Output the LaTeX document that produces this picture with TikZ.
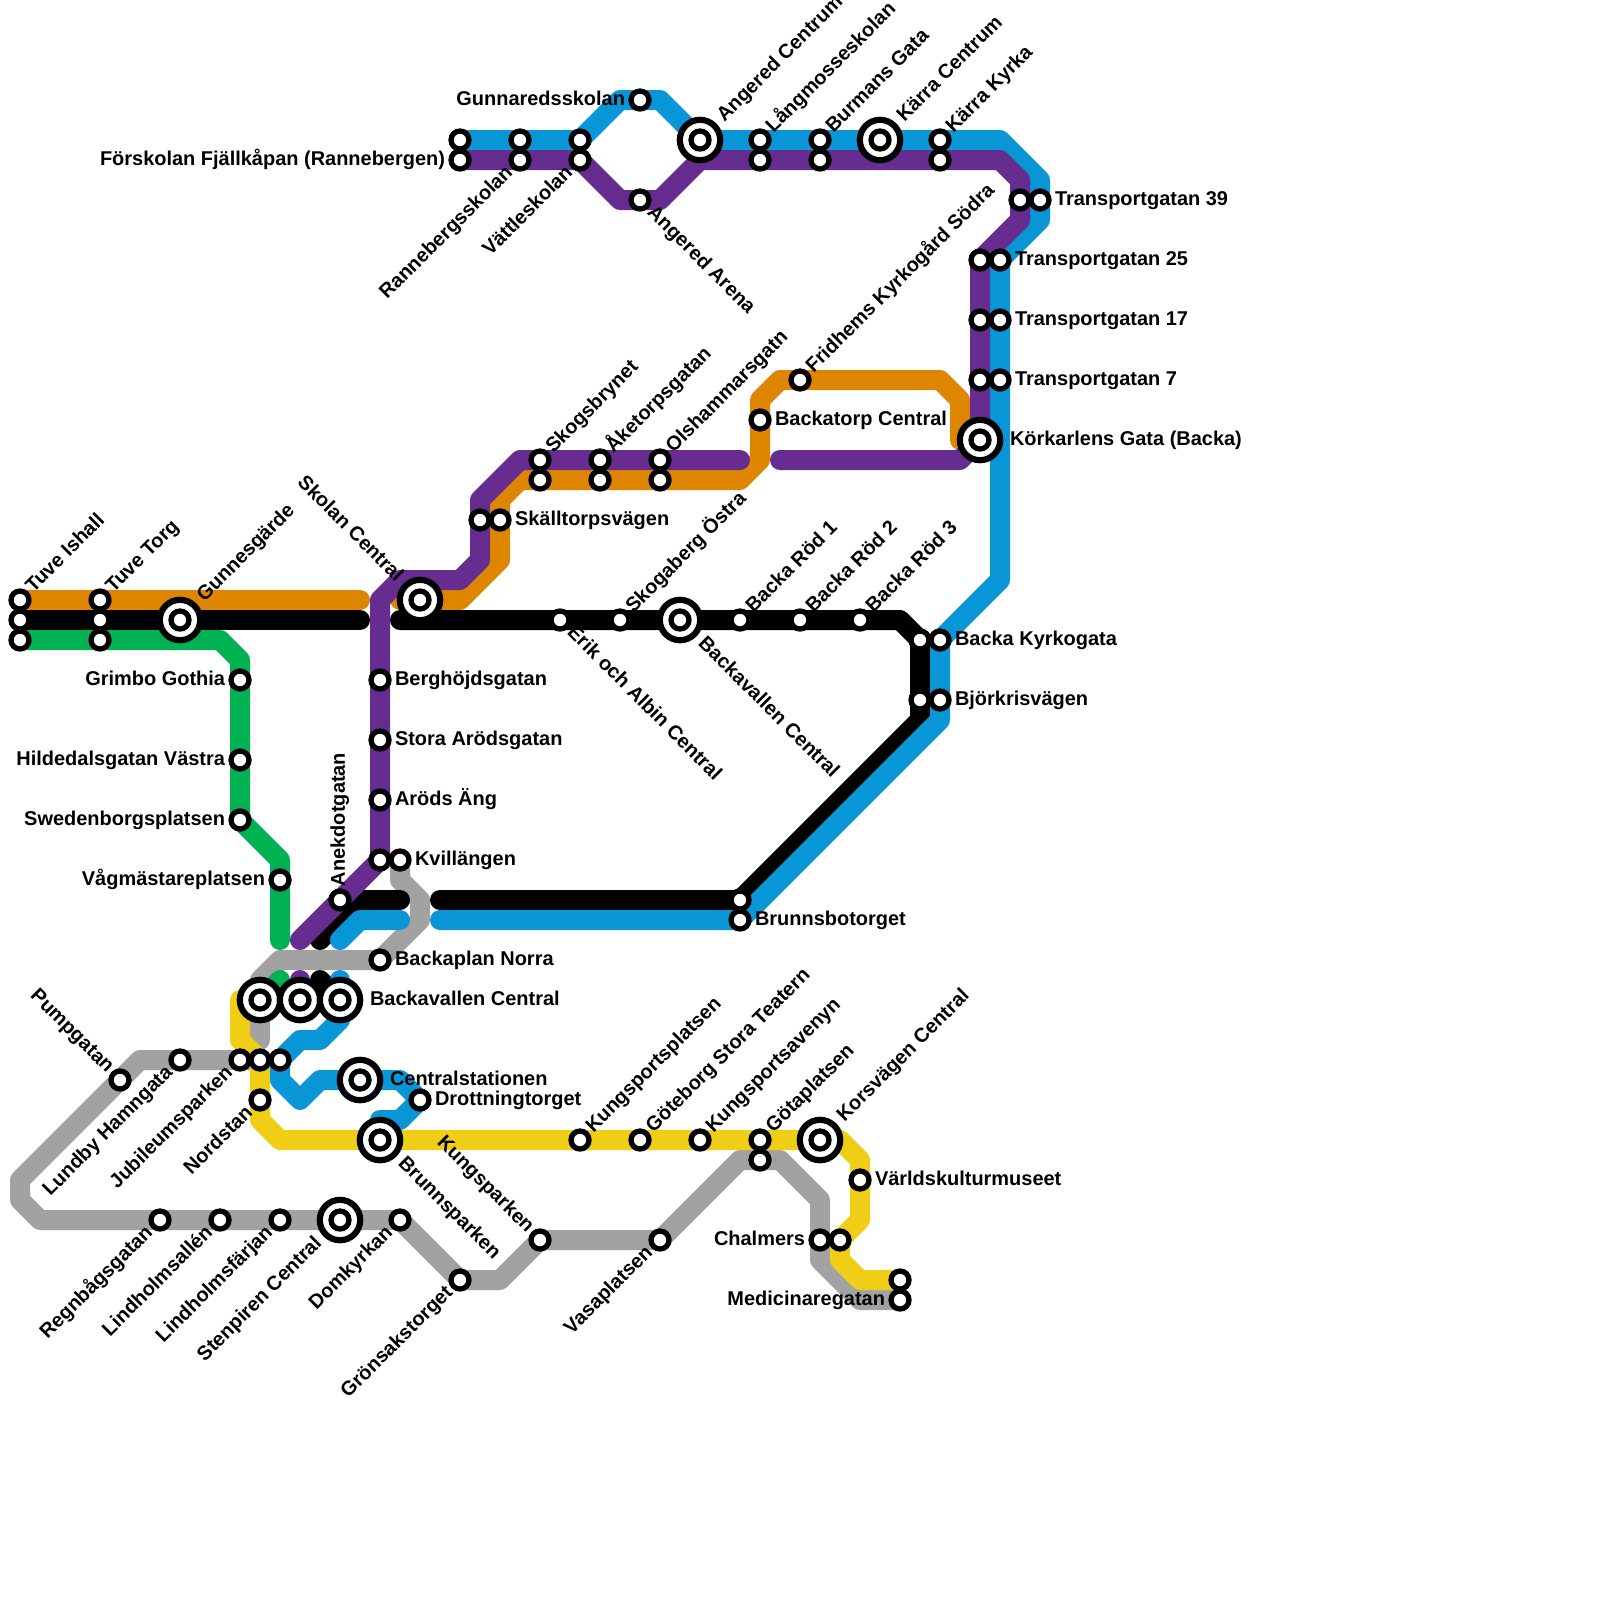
\documentclass[tikz,border=0pt]{standalone}
\usepackage{xcolor}
\usepackage{fontspec}
\setmainfont{Liberation Sans}
\usepackage{tikz}
\usetikzlibrary{positioning}
\definecolor{lineblue}{HTML}{0896D7}
\definecolor{linepurple}{HTML}{662C90}
\definecolor{lineorange}{HTML}{DF8600}
\definecolor{linegreen}{HTML}{00B251}
\definecolor{lineyellow}{HTML}{F0CE15}
\definecolor{linegray}{HTML}{A2A2A2}
\pgfdeclarelayer{lines}
\pgfsetlayers{lines,main}
\tikzset{
  metro/.style={line width=0.5cm, line cap=round, line join=round},
  stn/.style={circle, draw=black, fill=white, inner sep=0pt, outer sep=0pt, minimum size=0.45cm, line width=0.1325cm},
  bigstn/.style={circle, draw=black, fill=white, inner sep=0pt, outer sep=0pt, minimum size=1.01cm, line width=0.155cm,
    path picture={\draw[line width=0.1325cm] (path picture bounding box.center) circle (0.225cm);}},
  lbl/.style={inner sep=0pt, outer sep=0pt, text height=7.1pt, text depth=0pt, font=\fontsize{14.2}{17}\selectfont\bfseries},
  lbe/.style={lbl, anchor=west, text height=8pt},
  lbw/.style={lbl, anchor=east, text height=8pt},
  lbne/.style={lbl, anchor=west, rotate=45},
  lbsw/.style={lbl, anchor=east, rotate=45},
  lbse/.style={lbl, anchor=west, rotate=-45},
  lbnw/.style={lbl, anchor=east, rotate=-45},
  lbn/.style={lbl, anchor=west, rotate=90}
}
\begin{document}
\begin{tikzpicture}[x=0.5cm, y=0.5cm]
    \useasboundingbox (0,0) rectangle (80,-80);

    % Stations
    \node[stn] (tuveIshallO) at (1,-30) {};
    \node[stn] (tuveIshallK) at (1,-31) {};
    \node[stn] (tuveIshallG) at (1,-32) {};
    \node[stn] (tuveTorgO) at (5,-30) {};
    \node[stn] (tuveTorgK) at (5,-31) {};
    \node[stn] (tuveTorgG) at (5,-32) {};
    \node[bigstn] (gunnesgarde) at (9,-31) {};
    \node[stn] (grimbo) at (12,-34) {};
    \node[stn] (hildedal) at (12,-38) {};
    \node[stn] (swedenborg) at (12,-41) {};
    \node[stn] (vagmastare) at (14,-44) {};
    \node[bigstn] (skolan) at (21,-30) {};
    \node[stn] (berghojd) at (19,-34) {};
    \node[stn] (storaArod) at (19,-37) {};
    \node[stn] (arodsAng) at (19,-40) {};
    \node[stn] (kvillP) at (19,-43) {};
    \node[stn] (kvillS) at (20,-43) {};
    \node[stn] (anekdot) at (17,-45) {};
    \node[stn] (backaplan) at (19,-48) {};
    \node[bigstn] (bvcS) at (13,-50) {};
    \node[bigstn] (bvcP) at (15,-50) {};
    \node[bigstn] (bvcB) at (17,-50) {};
    \node[stn] (jubiA) at (12,-53) {};
    \node[stn] (jubiB) at (13,-53) {};
    \node[stn] (jubiC) at (14,-53) {};
    \node[stn] (nordstan) at (13,-55) {};
    \node[stn] (pumpgatan) at (6,-54) {};
    \node[stn] (lundby) at (9,-53) {};
    \node[bigstn] (centralst) at (18,-54) {};
    \node[stn] (drottning) at (21,-55) {};
    \node[bigstn] (brunnsp) at (19,-57) {};
    \node[stn] (regnbag) at (8,-61) {};
    \node[stn] (lindAllen) at (11,-61) {};
    \node[stn] (lindFarjan) at (14,-61) {};
    \node[bigstn] (stenpiren) at (17,-61) {};
    \node[stn] (domkyrkan) at (20,-61) {};
    \node[stn] (gronsak) at (23,-64) {};
    \node[stn] (kungsparken) at (27,-62) {};
    \node[stn] (vasa) at (33,-62) {};
    \node[stn] (kungsport) at (29,-57) {};
    \node[stn] (storaTeatern) at (32,-57) {};
    \node[stn] (avenyn) at (35,-57) {};
    \node[stn] (gotaY) at (38,-57) {};
    \node[stn] (gotaS) at (38,-58) {};
    \node[bigstn] (korsvagen) at (41,-57) {};
    \node[stn] (varldskultur) at (43,-59) {};
    \node[stn] (chalmersS) at (41,-62) {};
    \node[stn] (chalmersY) at (42,-62) {};
    \node[stn] (mediY) at (45,-64) {};
    \node[stn] (mediS) at (45,-65) {};
    \node[stn] (brunnsbK) at (37,-45) {};
    \node[stn] (brunnsbB) at (37,-46) {};
    \node[stn] (kyrkogataK) at (46,-32) {};
    \node[stn] (kyrkogataB) at (47,-32) {};
    \node[stn] (bjorkK) at (46,-35) {};
    \node[stn] (bjorkB) at (47,-35) {};
    \node[stn] (erik) at (28,-31) {};
    \node[stn] (skogaberg) at (31,-31) {};
    \node[bigstn] (backavallen) at (34,-31) {};
    \node[stn] (rodA) at (37,-31) {};
    \node[stn] (rodB) at (40,-31) {};
    \node[stn] (rodC) at (43,-31) {};
    \node[stn] (skalltorpP) at (24,-26) {};
    \node[stn] (skalltorpO) at (25,-26) {};
    \node[stn] (skogsbrP) at (27,-23) {};
    \node[stn] (skogsbrO) at (27,-24) {};
    \node[stn] (aketorpP) at (30,-23) {};
    \node[stn] (aketorpO) at (30,-24) {};
    \node[stn] (olshamP) at (33,-23) {};
    \node[stn] (olshamO) at (33,-24) {};
    \node[stn] (backatorp) at (38,-21) {};
    \node[stn] (fridhems) at (40,-19) {};
    \node[bigstn] (korkarlen) at (49,-22) {};
    \node[stn] (tr7P) at (49,-19) {};
    \node[stn] (tr7B) at (50,-19) {};
    \node[stn] (tr17P) at (49,-16) {};
    \node[stn] (tr17B) at (50,-16) {};
    \node[stn] (tr25P) at (49,-13) {};
    \node[stn] (tr25B) at (50,-13) {};
    \node[stn] (tr39P) at (51,-10) {};
    \node[stn] (tr39B) at (52,-10) {};
    \node[stn] (forskolanB) at (23,-7) {};
    \node[stn] (forskolanP) at (23,-8) {};
    \node[stn] (rannebergB) at (26,-7) {};
    \node[stn] (rannebergP) at (26,-8) {};
    \node[stn] (vattleB) at (29,-7) {};
    \node[stn] (vattleP) at (29,-8) {};
    \node[stn] (gunnared) at (32,-5) {};
    \node[stn] (angArena) at (32,-10) {};
    \node[bigstn] (angCentrum) at (35,-7) {};
    \node[stn] (langmosseB) at (38,-7) {};
    \node[stn] (langmosseP) at (38,-8) {};
    \node[stn] (burmansB) at (41,-7) {};
    \node[stn] (burmansP) at (41,-8) {};
    \node[bigstn] (karraC) at (44,-7) {};
    \node[stn] (karraKB) at (47,-7) {};
    \node[stn] (karraKP) at (47,-8) {};

    % Lines
    \begin{pgfonlayer}{lines}
    \draw[metro, linegray] (kvillS.center) -- (20,-44) -- (21,-45) -- (21,-46) -- (backaplan.center) -- (14,-48) -- (13,-49) -- (bvcS.center) -- (13,-52);
    \draw[metro, linegray] (jubiB.center) -- (lundby.center) -- (7,-53) -- (pumpgatan.center) -- (1,-59) -- (1,-60) -- (2,-61) -- (regnbag.center) -- (stenpiren.center) -- (domkyrkan.center) -- (gronsak.center) -- (25,-64) -- (kungsparken.center) -- (vasa.center) -- (37,-58) -- (gotaS.center) -- (39,-58) -- (41,-60) -- (chalmersS.center) -- (41,-63) -- (43,-65) -- (mediS.center);
    \draw[metro, linegreen] (tuveIshallG.center) -- (tuveTorgG.center) -- (11,-32) -- (12,-33) -- (swedenborg.center) -- (14,-43) -- (14,-47);
    \draw[metro, linegreen] (14,-49) -- (bvcS.center);
    \draw[metro, lineorange] (tuveIshallO.center) -- (tuveTorgO.center) -- (18,-30);
    \draw[metro, lineorange] (20,-30) -- (skolan.center) -- (23,-30) -- (25,-28) -- (skalltorpO.center) -- (25,-25) -- (26,-24) -- (olshamO.center) -- (37,-24) -- (38,-23) -- (backatorp.center) -- (38,-20) -- (39,-19) -- (fridhems.center) -- (47,-19) -- (48,-20) -- (48,-22) -- (korkarlen.center);
    \draw[metro, lineyellow] (bvcS.center) -- (12,-50) -- (12,-52) -- (jubiB.center) -- (nordstan.center) -- (13,-56) -- (14,-57) -- (brunnsp.center) -- (korsvagen.center) -- (42,-57) -- (43,-58) -- (varldskultur.center) -- (43,-61) -- (chalmersY.center) -- (42,-63) -- (43,-64) -- (mediY.center);
    \draw[metro, black] (tuveIshallK.center) -- (gunnesgarde.center) -- (18,-31);
    \draw[metro, black] (20,-31) -- (backavallen.center) -- (45,-31) -- (kyrkogataK.center) -- (bjorkK.center) -- (46,-36) -- (brunnsbK.center) -- (22,-45);
    \draw[metro, black] (20,-45) -- (18,-45) -- (16,-47);
    \draw[metro, black] (16,-49) -- (bvcB.center);
    \draw[metro, lineblue] (forskolanB.center) -- (vattleB.center) -- (31,-5) -- (33,-5) -- (angCentrum.center) -- (50,-7) -- (52,-9) -- (tr39B.center) -- (52,-11) -- (tr25B.center) -- (50,-29) -- (kyrkogataB.center) -- (bjorkB.center) -- (47,-36) -- (brunnsbB.center) -- (22,-46);
    \draw[metro, lineblue] (20,-46) -- (18,-46) -- (17,-47);
    \draw[metro, lineblue] (17,-49) -- (bvcB.center) -- (17,-51) -- (16,-52) -- (15,-52) -- (jubiC.center) -- (14,-54) -- (15,-55) -- (16,-54) -- (centralst.center) -- (20,-54) -- (drottning.center) -- (20,-56) -- (19,-56) -- (brunnsp.center);
    \draw[metro, linepurple] (forskolanP.center) -- (vattleP.center) -- (31,-10) -- (33,-10) -- (35,-8) -- (50,-8) -- (51,-9) -- (tr39P.center) -- (51,-11) -- (tr25P.center) -- (korkarlen.center) -- (48,-23) -- (39,-23);
    \draw[metro, linepurple] (37,-23) -- (26,-23) -- (24,-25) -- (skalltorpP.center) -- (24,-28) -- (23,-29) -- (20,-29) -- (19,-30) -- (kvillP.center) -- (15,-47);
    \draw[metro, linepurple] (15,-49) -- (bvcP.center);
    \end{pgfonlayer}

    % Labels
    \node[lbne] (lTuveIshall) at (1.5,-29.5) {Tuve Ishall};
    \node[lbne] (lTuveTorg) at (5.5,-29.5) {Tuve Torg};
    \node[lbne] (lGunnesgarde) at (10.05,-29.95) {Gunnesgärde};
    \node[lbw] (lGrimbo) at (11.25,-34) {Grimbo Gothia};
    \node[lbw] (lHildedal) at (11.25,-38) {Hildedalsgatan Västra};
    \node[lbw] (lSwedenborg) at (11.25,-41) {Swedenborgsplatsen};
    \node[lbw] (lVagmastare) at (13.25,-44) {Vågmästareplatsen};
    \node[lbnw] (lSkolan) at (19.95,-28.95) {Skolan Central};
    \node[lbe] (lBerghojd) at (19.75,-34) {Berghöjdsgatan};
    \node[lbe] (lStoraArod) at (19.75,-37) {Stora Arödsgatan};
    \node[lbe] (lArodsAng) at (19.75,-40) {Aröds Äng};
    \node[lbe] (lKvill) at (20.75,-43) {Kvillängen};
    \node[lbn] (lAnekdot) at (17,-44.3) {Anekdotgatan};
    \node[lbe] (lBackaplan) at (19.75,-48) {Backaplan Norra};
    \node[lbe] (lBvc) at (18.5,-50) {Backavallen Central};
    \node[lbnw] (lPumpgatan) at (5.5,-53.5) {Pumpgatan};
    \node[lbsw] (lLundby) at (8.5,-53.5) {Lundby Hamngata};
    \node[lbsw] (lJubi) at (11.5,-53.5) {Jubileumsparken};
    \node[lbsw] (lNordstan) at (12.5,-55.5) {Nordstan};
    \node[lbe] (lCentralst) at (19.5,-54) {Centralstationen};
    \node[lbe] (lDrottning) at (21.75,-55) {Drottningtorget};
    \node[lbse] (lBrunnsp) at (20.05,-58.05) {Brunnsparken};
    \node[lbsw] (lRegnbag) at (7.5,-61.5) {Regnbågsgatan};
    \node[lbsw] (lLindAllen) at (10.5,-61.5) {Lindholmsallén};
    \node[lbsw] (lLindFarjan) at (13.5,-61.5) {Lindholmsfärjan};
    \node[lbsw] (lStenpiren) at (15.95,-62.05) {Stenpiren Central};
    \node[lbsw] (lDomkyrkan) at (19.5,-61.5) {Domkyrkan};
    \node[lbsw] (lGronsak) at (22.5,-64.5) {Grönsakstorget};
    \node[lbnw] (lKungsparken) at (26.5,-61.5) {Kungsparken};
    \node[lbsw] (lVasa) at (32.5,-62.5) {Vasaplatsen};
    \node[lbne] (lKungsport) at (29.5,-56.5) {Kungsportsplatsen};
    \node[lbne] (lStoraTeatern) at (32.5,-56.5) {Göteborg Stora Teatern};
    \node[lbne] (lAvenyn) at (35.5,-56.5) {Kungsportsavenyn};
    \node[lbne] (lGota) at (38.5,-56.5) {Götaplatsen};
    \node[lbne] (lKorsvagen) at (42.05,-55.95) {Korsvägen Central};
    \node[lbe] (lVarldskultur) at (43.75,-59) {Världskulturmuseet};
    \node[lbw] (lChalmers) at (40.25,-62) {Chalmers};
    \node[lbw] (lMedi) at (44.25,-65) {Medicinaregatan};
    \node[lbe] (lBrunnsb) at (37.75,-46) {Brunnsbotorget};
    \node[lbe] (lKyrkogata) at (47.75,-32) {Backa Kyrkogata};
    \node[lbe] (lBjork) at (47.75,-35) {Björkrisvägen};
    \node[lbse] (lErik) at (28.5,-31.5) {Erik och Albin Central};
    \node[lbne] (lSkogaberg) at (31.5,-30.5) {Skogaberg Östra};
    \node[lbse] (lBackavallen) at (35.05,-32.05) {Backavallen Central};
    \node[lbne] (lRodA) at (37.5,-30.5) {Backa Röd 1};
    \node[lbne] (lRodB) at (40.5,-30.5) {Backa Röd 2};
    \node[lbne] (lRodC) at (43.5,-30.5) {Backa Röd 3};
    \node[lbe] (lSkalltorp) at (25.75,-26) {Skälltorpsvägen};
    \node[lbne] (lSkogsbr) at (27.5,-22.5) {Skogsbrynet};
    \node[lbne] (lAketorp) at (30.5,-22.5) {Åketorpsgatan};
    \node[lbne] (lOlsham) at (33.5,-22.5) {Olshammarsgatn};
    \node[lbe] (lBackatorp) at (38.75,-21) {Backatorp Central};
    \node[lbne] (lFridhems) at (40.5,-18.5) {Fridhems Kyrkogård Södra};
    \node[lbe] (lKorkarlen) at (50.5,-22) {Körkarlens Gata (Backa)};
    \node[lbe] (lTrA) at (50.75,-19) {Transportgatan 7};
    \node[lbe] (lTrB) at (50.75,-16) {Transportgatan 17};
    \node[lbe] (lTrC) at (50.75,-13) {Transportgatan 25};
    \node[lbe] (lTrD) at (52.75,-10) {Transportgatan 39};
    \node[lbw] (lForskolan) at (22.25,-8) {Förskolan Fjällkåpan (Rannebergen)};
    \node[lbsw] (lRanneberg) at (25.5,-8.5) {Rannebergsskolan};
    \node[lbsw] (lVattle) at (28.5,-8.5) {Vättleskolan};
    \node[lbw] (lGunnared) at (31.25,-5) {Gunnaredsskolan};
    \node[lbse] (lAngArena) at (32.5,-10.5) {Angered Arena};
    \node[lbne] (lAngCentrum) at (36.05,-5.95) {Angered Centrum};
    \node[lbne] (lLangmosse) at (38.5,-6.5) {Långmosseskolan};
    \node[lbne] (lBurmans) at (41.5,-6.5) {Burmans Gata};
    \node[lbne] (lKarraC) at (45.05,-5.95) {Kärra Centrum};
    \node[lbne] (lKarraK) at (47.5,-6.5) {Kärra Kyrka};
\end{tikzpicture}
\end{document}
